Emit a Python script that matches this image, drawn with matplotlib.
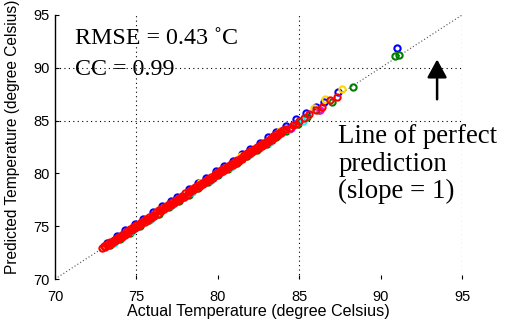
import matplotlib.pyplot as plt

# red model (drawn on top)
red_act = [72.9, 73.0, 73.1, 73.2, 73.3, 73.4, 73.5, 73.6, 73.7, 73.8, 73.9, 74.0, 74.1, 74.2, 74.3,
           74.4, 74.5, 74.6, 74.7, 74.8, 74.9, 75.0, 75.1, 75.2, 75.3, 75.4, 75.5, 75.6, 75.7, 75.8,
           75.9, 76.0, 76.1, 76.2, 76.3, 76.4, 76.5, 76.6, 76.7, 76.8, 76.9, 77.0, 77.1, 77.2, 77.3,
           77.4, 77.5, 77.6, 77.7, 77.8, 77.9, 78.0, 78.1, 78.2, 78.3, 78.4, 78.5, 78.6, 78.7, 78.8,
           78.9, 79.0, 79.1, 79.2, 79.3, 79.4, 79.5, 79.6, 79.7, 79.8, 79.9, 80.0, 80.1, 80.2, 80.3,
           80.4, 80.5, 80.6, 80.7, 80.8, 80.9, 81.0, 81.1, 81.2, 81.3, 81.4, 81.5, 81.6, 81.7, 81.8,
           81.9, 82.0, 82.1, 82.2, 82.3, 82.4, 82.5, 82.6, 82.7, 82.8, 82.9, 83.0, 83.1, 83.2, 83.3,
           83.4, 83.5, 83.6, 83.7, 83.8, 83.9, 84.0, 84.2, 84.4, 84.6, 84.8, 85.0, 85.3, 85.6, 86.0,
           86.4, 86.9, 87.3]
red_pred = [72.9, 73.1, 73.0, 73.3, 73.2, 73.5, 73.4, 73.7, 73.6, 73.9, 73.8, 74.1, 74.0, 74.3, 74.2,
            74.5, 74.4, 74.7, 74.6, 74.9, 74.8, 75.1, 75.0, 75.3, 75.2, 75.5, 75.4, 75.7, 75.6, 75.9,
            75.8, 76.1, 76.0, 76.3, 76.2, 76.5, 76.4, 76.7, 76.6, 76.9, 76.8, 77.1, 77.0, 77.3, 77.2,
            77.5, 77.4, 77.7, 77.6, 77.9, 77.8, 78.1, 78.0, 78.3, 78.2, 78.5, 78.4, 78.7, 78.6, 78.9,
            78.8, 79.1, 79.0, 79.3, 79.2, 79.5, 79.4, 79.7, 79.6, 79.9, 79.8, 80.1, 80.0, 80.3, 80.2,
            80.5, 80.4, 80.7, 80.6, 80.9, 80.8, 81.1, 81.0, 81.3, 81.2, 81.5, 81.4, 81.7, 81.6, 81.9,
            81.8, 82.1, 82.0, 82.3, 82.2, 82.5, 82.4, 82.7, 82.6, 82.9, 82.8, 83.1, 83.0, 83.3, 83.2,
            83.5, 83.4, 83.7, 83.6, 83.9, 83.8, 84.1, 84.2, 84.3, 84.6, 84.7, 85.0, 85.2, 85.6, 86.0,
            86.3, 86.9, 87.2]

blue_act = [73.2, 73.8, 74.3, 74.9, 75.4, 76.0, 76.6, 77.1, 77.5, 78.2, 78.8, 79.3, 79.9, 80.4,
            80.9, 81.5, 82.0, 82.6, 83.1, 83.6, 84.2, 84.8, 85.4, 86.0, 86.5, 87.4, 91.0]
blue_pred = [73.4, 74.1, 74.6, 75.2, 75.7, 76.3, 76.9, 77.4, 77.8, 78.5, 79.1, 79.6, 80.2, 80.7,
             81.2, 81.8, 82.3, 82.9, 83.4, 83.9, 84.5, 85.1, 85.7, 86.3, 86.8, 87.7, 91.9]

green_act = [73.4, 74.0, 74.6, 75.2, 75.8, 76.4, 77.0, 77.6, 78.2, 78.8, 79.4, 80.0, 80.6, 81.2,
             81.8, 82.4, 83.0, 83.6, 84.2, 84.9, 85.5, 86.2, 87.0, 88.3, 90.9, 91.1]
green_pred = [73.2, 73.8, 74.4, 75.0, 75.6, 76.2, 76.8, 77.4, 78.0, 78.6, 79.2, 79.8, 80.4, 81.0,
              81.6, 82.2, 82.8, 83.4, 84.0, 84.7, 85.3, 86.0, 86.8, 88.2, 91.1, 91.2]

cyan_act = [73.6, 74.7, 75.9, 77.2, 78.4, 79.6, 80.8, 82.0, 83.2, 84.4, 85.2]
cyan_pred = [73.4, 74.5, 75.7, 77.0, 78.2, 79.4, 80.6, 81.8, 83.0, 84.2, 85.0]

yellow_act = [76.3, 78.9, 81.4, 83.8, 85.9, 86.6, 87.6]
yellow_pred = [76.5, 79.1, 81.6, 84.0, 86.2, 87.0, 88.0]

magenta_act = [75.1, 77.9, 80.2, 82.8, 84.5, 86.3]
magenta_pred = [75.0, 77.8, 80.1, 82.7, 84.3, 86.0]

series = [
    (blue_act, blue_pred, 'blue'),
    (green_act, green_pred, 'green'),
    (cyan_act, cyan_pred, 'cyan'),
    (yellow_act, yellow_pred, 'gold'),
    (magenta_act, magenta_pred, 'magenta'),
    (red_act, red_pred, 'red'),
]

perfect = [70, 95]
x_ticks = [70, 75, 80, 85, 90, 95]
y_ticks = [70, 75, 80, 85, 90, 95]
x_grid = [75, 85, 95]
y_grid = [85, 90]

fig = plt.figure(figsize=(5.09, 3.31), dpi=100)
ax = fig.add_axes([0.108, 0.157, 0.8, 0.798])

for xg in x_grid:
    ax.axvline(xg, color='black', ls=(0, (1, 3)), lw=0.8, zorder=0)
for yg in y_grid:
    ax.axhline(yg, color='black', ls=(0, (1, 3)), lw=0.8, zorder=0)

ax.plot(perfect, perfect, color='0.3', ls=(0, (1, 2)), lw=0.8, zorder=1)

for act, pred, col in series:
    ax.plot(act, pred, 'o', mfc='none', mec=col, ms=4.5, mew=1.5, zorder=2)

ax.set_xlim(70, 95)
ax.set_ylim(70, 95)
ax.set_xticks(x_ticks)
ax.set_yticks(y_ticks)
for s in ['top', 'right', 'bottom']:
    ax.spines[s].set_visible(False)
ax.spines['left'].set_linewidth(1.0)
ax.tick_params(direction='in', length=3, labelsize=10.5)
ax.tick_params(axis='x', pad=8)
ax.tick_params(axis='y', pad=4)
for lab in ax.get_xticklabels() + ax.get_yticklabels():
    lab.set_family('Liberation Sans')

ax.set_xlabel('Actual Temperature (degree Celsius)', fontsize=11.6, family='Liberation Sans', labelpad=0)
ax.set_ylabel('Predicted Temperature (degree Celsius)', fontsize=11.2, family='Liberation Sans')
ax.yaxis.set_label_coords(-0.085, 0.54)

ax.text(71.2, 92.2, 'RMSE = 0.43 ˚C', family='Liberation Serif', fontsize=17.3)
ax.text(71.2, 89.35, 'CC = 0.99', family='Liberation Serif', fontsize=17.3)
big = dict(family='Liberation Serif', fontsize=19.4)
ax.text(87.4, 82.9, 'Line of perfect', **big)
ax.text(87.4, 80.25, 'prediction', **big)
ax.text(87.4, 77.65, '(slope = 1)', **big)

ax.annotate('', xy=(93.46, 91.05), xytext=(93.46, 86.75),
            arrowprops=dict(arrowstyle='-|>,head_width=0.6,head_length=1.1', color='black', lw=1.8))

fig.savefig('out.png', dpi=100)
